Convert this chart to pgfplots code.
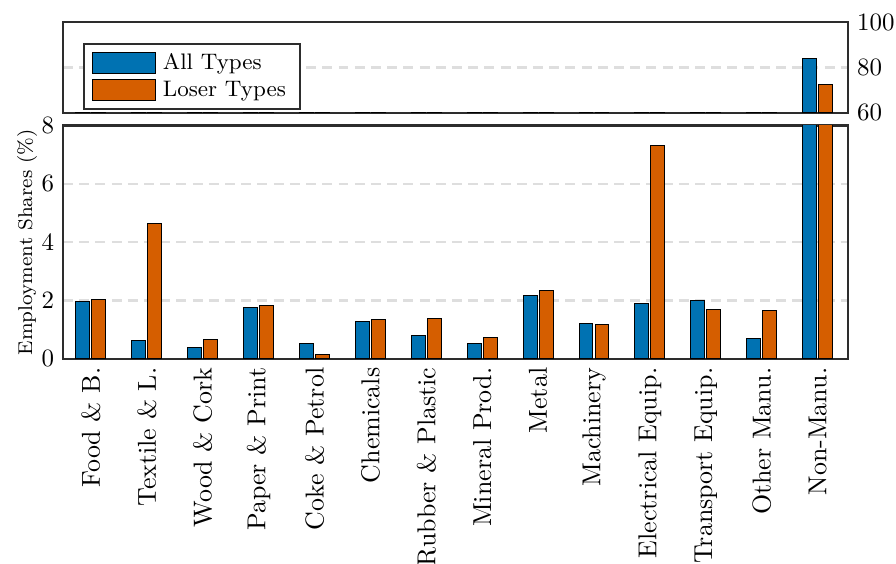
\documentclass[border=0pt]{standalone}
\usepackage{pgfplots}
\pgfplotsset{compat=1.18}
\definecolor{cblue}{RGB}{0,114,178}
\definecolor{corange}{RGB}{213,94,0}
\definecolor{gridgray}{RGB}{222,222,222}
\definecolor{axgray}{RGB}{45,45,45}

\pgfplotstableread{
x all loser
0 1.98 2.05
1 0.62 4.66
2 0.39 0.66
3 1.77 1.84
4 0.54 0.16
5 1.29 1.34
6 0.80 1.38
7 0.52 0.74
8 2.18 2.36
9 1.21 1.18
10 1.91 7.32
11 2.01 1.70
12 0.70 1.67
13 84.0 72.5
}\shares

\pgfplotsset{
  brk/.style={
    scale only axis, width=11.07cm,
    xmin=-0.5, xmax=13.55,
    axis line style={axgray, line width=0.9pt},
    major tick length=0pt,
    ymajorgrids,
    grid style={gridgray, line width=0.9pt, dash pattern=on 4pt off 2.5pt},
    ybar, bar width=0.25,
    every axis plot/.append style={draw=black, line width=0.4pt},
  },
}

\begin{document}
\begin{tikzpicture}
\begin{axis}[brk, name=bot,
    height=3.29cm,
    ymin=0, ymax=8,
    ytick={0,2,4,6,8},
    xtick={0,...,13},
    xticklabels={Food \& B., Textile \& L., Wood \& Cork, Paper \& Print, Coke \& Petrol, Chemicals, Rubber \& Plastic, Mineral Prod., Metal, Machinery, Electrical Equip., Transport Equip., Other Manu., Non-Manu.},
    xticklabel style={rotate=90, anchor=east, font=\fontsize{10.4}{12}\selectfont},
    ylabel={Employment Shares (\%)},
    ylabel style={font=\footnotesize},
    ylabel shift=-5pt,
]
\addplot[fill=cblue, bar shift=-0.143] table[x=x, y=all] {\shares};
\addplot[fill=corange, bar shift=0.143] table[x=x, y=loser] {\shares};
\end{axis}
\begin{axis}[brk,
    at={(bot.north west)}, yshift=0.18cm, anchor=south west,
    height=1.28cm,
    ymin=60, ymax=100,
    ytick={60,80,100},
    yticklabel pos=right,
    xtick=\empty,
    legend style={at={(0.0255,0.77)}, anchor=north west, draw=axgray, line width=0.9pt,
      row sep=0pt, inner xsep=3pt, inner ysep=2pt, font=\small,
      nodes={inner ysep=1.6pt, inner xsep=2.6pt}},
    legend cell align=left,
    legend image code/.code={\draw[#1, line width=0.4pt] (0cm,-0.15cm) rectangle (0.9cm,0.15cm);},
]
\addplot[fill=cblue, bar shift=-0.143] table[x=x, y=all] {\shares};
\addlegendentry{All Types}
\addplot[fill=corange, bar shift=0.143] table[x=x, y=loser] {\shares};
\addlegendentry{Loser Types}
\end{axis}
\pgfresetboundingbox
\path (bot.south west) ++(-0.888cm,-2.89cm) rectangle ++(12.63cm,7.95cm);
\end{tikzpicture}
\end{document}
